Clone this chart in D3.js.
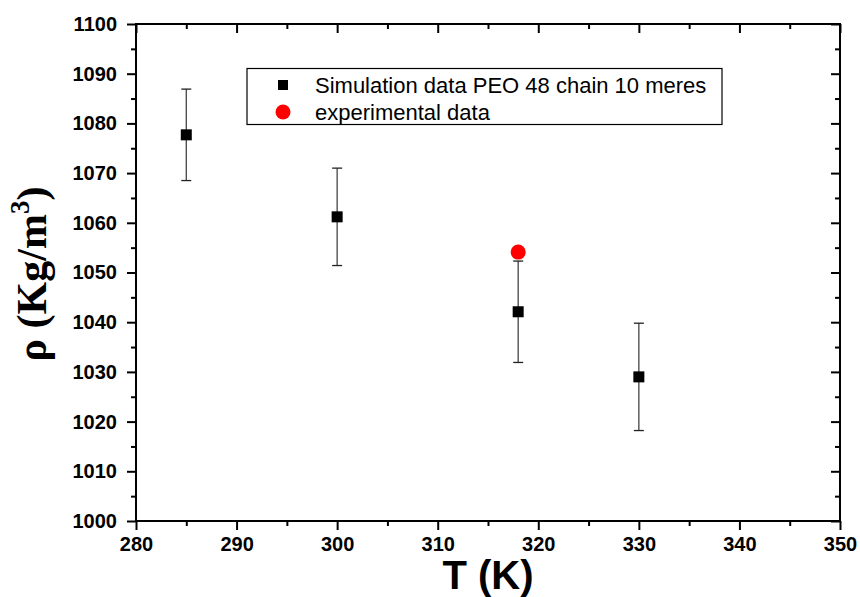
<!DOCTYPE html>
<html>
<head>
<meta charset="utf-8">
<script src="https://cdn.jsdelivr.net/npm/d3@7"></script>
<style>
  html, body { margin: 0; padding: 0; background: #fff; }
  svg { display: block; }
  .tick text { font-family: 'Liberation Sans', Arial, sans-serif; font-weight: bold; font-size: 20px; }
</style>
</head>
<body>
<svg id="chart" width="860" height="597"></svg>
<script>
// ---- data ----
const simT = [285, 300, 318, 330];
const simRho = [1077.7, 1061.2, 1042.1, 1029.0];
const simErr = [9.2, 9.8, 10.2, 10.8];
const expT = [318];
const expRho = [1054.1];
const xTicks = [280, 290, 300, 310, 320, 330, 340, 350];
const yTicks = [1000, 1010, 1020, 1030, 1040, 1050, 1060, 1070, 1080, 1090, 1100];
const legendLabels = ["Simulation data PEO 48 chain 10 meres", "experimental data"];

const svg = d3.select("#chart");
const L = 136, R = 840, T = 24, B = 521;
const x = d3.scaleLinear().domain([280, 350]).range([L, R]);
const y = d3.scaleLinear().domain([1000, 1100]).range([B, T]);

const xMinor = d3.range(285, 350, 10);
const yMinor = d3.range(1005, 1100, 10);

// bottom axis
const gB = svg.append("g").attr("transform", `translate(0,${B})`)
  .call(d3.axisBottom(x).tickValues(xTicks).tickSize(9).tickPadding(7).tickFormat(d3.format("d")));
gB.append("g").call(d3.axisBottom(x).tickValues(xMinor).tickSize(5).tickFormat(""));
// top axis (inward)
const gT = svg.append("g").attr("transform", `translate(0,${T})`)
  .call(d3.axisBottom(x).tickValues(xTicks).tickSize(9).tickFormat(""));
gT.append("g").call(d3.axisBottom(x).tickValues(xMinor).tickSize(5).tickFormat(""));
// left axis
const gL = svg.append("g").attr("transform", `translate(${L},0)`)
  .call(d3.axisLeft(y).tickValues(yTicks).tickSize(9).tickPadding(10).tickFormat(d3.format("d")));
gL.append("g").call(d3.axisLeft(y).tickValues(yMinor).tickSize(5).tickFormat(""));
// right axis (inward)
const gR = svg.append("g").attr("transform", `translate(${R},0)`)
  .call(d3.axisLeft(y).tickValues(yTicks).tickSize(9).tickFormat(""));
gR.append("g").call(d3.axisLeft(y).tickValues(yMinor).tickSize(5).tickFormat(""));

[gB, gT, gL, gR].forEach(g => {
  g.attr("font-size", 20).attr("font-family", "'Liberation Sans', Arial, sans-serif").attr("font-weight", "bold");
  g.selectAll(".domain").remove();
  g.selectAll("line").attr("stroke", "#000").attr("stroke-width", 2);
  g.selectAll("text").attr("fill", "#000");
});

// frame
svg.append("rect").attr("x", L).attr("y", T).attr("width", R - L).attr("height", B - T)
  .attr("fill", "none").attr("stroke", "#000").attr("stroke-width", 2);

// error bars
const sim = simT.map((t, i) => ({ t, r: simRho[i], e: simErr[i] }));
const eb = svg.append("g");
sim.forEach(d => {
  const cx = x(d.t);
  eb.append("line").attr("x1", cx).attr("x2", cx).attr("y1", y(d.r + d.e)).attr("y2", y(d.r - d.e))
    .attr("stroke", "#444").attr("stroke-width", 1.3);
  [d.r + d.e, d.r - d.e].forEach(v => {
    eb.append("line").attr("x1", cx - 5).attr("x2", cx + 5).attr("y1", y(v)).attr("y2", y(v))
      .attr("stroke", "#222").attr("stroke-width", 1.3);
  });
});

// experimental
svg.append("g").selectAll("circle").data(expT.map((t, i) => ({ t, r: expRho[i] })))
  .join("circle").attr("cx", d => x(d.t)).attr("cy", d => y(d.r)).attr("r", 7.5).attr("fill", "#ff0000");

// simulation squares
svg.append("g").selectAll("rect").data(sim).join("rect")
  .attr("x", d => x(d.t) - 5.5).attr("y", d => y(d.r) - 5.5).attr("width", 11).attr("height", 11)
  .attr("fill", "#000");

// legend
const lg = svg.append("g");
lg.append("rect").attr("x", 247).attr("y", 68.5).attr("width", 475).attr("height", 56)
  .attr("fill", "#fff").attr("stroke", "#000").attr("stroke-width", 1.2);
lg.append("rect").attr("x", 278).attr("y", 80).attr("width", 10).attr("height", 10).attr("fill", "#000");
lg.append("circle").attr("cx", 283).attr("cy", 112).attr("r", 7.5).attr("fill", "#ff0000");
legendLabels.forEach((t, i) => {
  lg.append("text").attr("x", 315).attr("y", 93 + i * 26.5).text(t)
    .style("font", "22px 'Liberation Sans', Arial, sans-serif").attr("fill", "#000");
});

// axis titles
svg.append("text").attr("x", 488).attr("y", 589).attr("text-anchor", "middle")
  .style("font", "bold 40px 'Liberation Sans', Arial, sans-serif").text("T (K)");
const yl = svg.append("text").attr("transform", "translate(46,274) rotate(-90)").attr("text-anchor", "middle")
  .style("font", "bold 42px 'Liberation Serif', 'Times New Roman', serif");
yl.append("tspan").text("ρ (Kg/m");
yl.append("tspan").attr("dy", -17).style("font-size", "27px").text("3");
yl.append("tspan").attr("dy", 17).text(")");
</script>
</body>
</html>
